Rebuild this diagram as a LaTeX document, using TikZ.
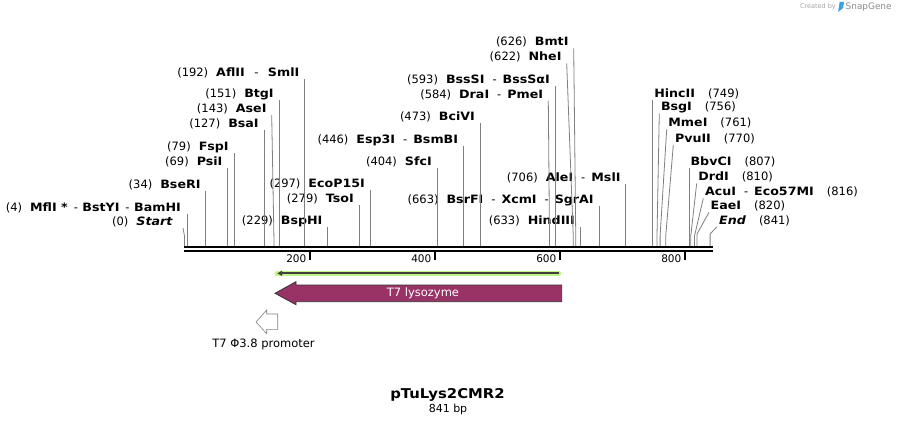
\documentclass[tikz,border=0pt]{standalone}
\usepackage{fontspec}
\setmainfont{DejaVu Sans}[BoldFeatures={FakeStretch=1.1}, BoldItalicFeatures={FakeStretch=1.1}]
\usetikzlibrary{arrows.meta}
\definecolor{lyso}{RGB}{153,51,102}
\definecolor{halo}{RGB}{190,245,130}
\definecolor{cutgray}{RGB}{128,128,128}
\definecolor{snapblue}{RGB}{60,160,230}
\newcommand{\sitefont}{\fontsize{11.5}{13}\selectfont}
\newcommand{\pn}[1]{(#1)\hspace{8pt}}
\newcommand{\pr}[1]{\hspace{13pt}(#1)}
\newcommand{\nm}[1]{\textbf{#1}}
\newcommand{\sep}{\hspace{8pt}-\hspace{6pt}}
\newcommand{\tsep}{\hspace{6pt}-\hspace{4.5pt}}
\newcommand{\wsep}{\hspace{9.5pt}-\hspace{9.5pt}}
\tikzset{
  site/.style={font=\sitefont, inner xsep=5pt, inner ysep=0.3pt, text height=8.5pt, text depth=2pt, anchor=south east},
  siter/.style={site, inner xsep=1.5pt, anchor=south west},
  cut/.style={draw=cutgray, line width=0.8pt},
  tickmark/.style={line width=2pt},
  ticklab/.style={font=\fontsize{10.5}{12}\selectfont, inner sep=0pt, anchor=east},
}

\begin{document}
\begin{tikzpicture}[x=1pt,y=-1pt]
        \useasboundingbox (0,0) rectangle (897,425);
        \fill [white] (0,0) rectangle (897,425);
        \node [site, inner xsep=10pt] (s0) at (183,228) {\pn{0}\textbf{\textit{Start}}};
        \node [site, inner xsep=6pt] (s4) at (187,213.5) {\pn{4}\nm{MflI *}\tsep\nm{BstYI}\tsep\nm{BamHI}};
        \node [site] (s34) at (205.75,190.7) {\pn{34}\nm{BseRI}};
        \node [site] (s69) at (227.6,168) {\pn{69}\nm{PsiI}};
        \node [site] (s79) at (233.9,153) {\pn{79}\nm{FspI}};
        \node [site] (s127) at (263.9,130) {\pn{127}\nm{BsaI}};
        \node [site] (s143) at (271.7,115) {\pn{143}\nm{AseI}};
        \node [site] (s151) at (278.9,100) {\pn{151}\nm{BtgI}};
        \node [site] (s192) at (304.5,79.3) {\pn{192}\nm{AflII}\wsep\nm{SmlI}};
        \node [site] (s229) at (327.6,226.7) {\pn{229}\nm{BspHI}};
        \node [site] (s279) at (358.9,205) {\pn{279}\nm{TsoI}};
        \node [site] (s297) at (370.1,190) {\pn{297}\nm{EcoP15I}};
        \node [site] (s404) at (437,168.3) {\pn{404}\nm{SfcI}};
        \node [site] (s446) at (463.25,146) {\pn{446}\nm{Esp3I}\sep\nm{BsmBI}};
        \node [site] (s473) at (480.1,123.3) {\pn{473}\nm{BciVI}};
        \node [site] (s584) at (548.3,100.7) {\pn{584}\nm{DraI}\sep\nm{PmeI}};
        \node [site] (s593) at (555.1,86) {\pn{593}\nm{BssSI}\sep\nm{BssSαI}};
        \node [site] (s622) at (566.7,63.3) {\pn{622}\nm{NheI}};
        \node [site] (s626) at (573.7,48.3) {\pn{626}\nm{BmtI}};
        \node [site] (s633) at (580.1,227.3) {\pn{633}\nm{HindIII}};
        \node [site] (s663) at (598.9,206) {\pn{663}\nm{BsrFI}\sep\nm{XcmI}\sep\nm{SgrAI}};
        \node [site] (s706) at (625.75,184) {\pn{706}\nm{AleI}\sep\nm{MslI}};
        \node [siter] (s749) at (652.6,100) {\nm{HincII}\pr{749}};
        \node [siter] (s756) at (659.3,113.3) {\nm{BsgI}\pr{756}};
        \node [siter] (s761) at (666.7,129.3) {\nm{MmeI}\pr{761}};
        \node [siter] (s770) at (673.3,145) {\nm{PvuII}\pr{770}};
        \node [siter] (s807) at (688.9,168.3) {\nm{BbvCI}\pr{807}};
        \node [siter] (s810) at (696.7,183.3) {\nm{DrdI}\pr{810}};
        \node [siter] (s816) at (703.3,198.3) {\nm{AcuI}\sep\nm{Eco57MI}\pr{816}};
        \node [siter] (s820) at (709,212.3) {\nm{EaeI}\pr{820}};
        \node [siter, inner xsep=2.3pt] (s841) at (716.7,227) {\textbf{\textit{End}}\pr{841}};
        \coordinate (b0) at (184.5,246);
        \coordinate (b4) at (187,246);
        \coordinate (b34) at (205.75,246);
        \coordinate (b69) at (227.6,246);
        \coordinate (b79) at (233.9,246);
        \coordinate (b127) at (263.9,246);
        \coordinate (b143) at (273.9,246);
        \coordinate (b151) at (278.9,246);
        \coordinate (b192) at (304.5,246);
        \coordinate (b229) at (327.6,246);
        \coordinate (b279) at (358.9,246);
        \coordinate (b297) at (370.1,246);
        \coordinate (b404) at (437,246);
        \coordinate (b446) at (463.25,246);
        \coordinate (b473) at (480.1,246);
        \coordinate (b584) at (549.5,246);
        \coordinate (b593) at (555.1,246);
        \coordinate (b622) at (573.25,246);
        \coordinate (b626) at (575.75,246);
        \coordinate (b633) at (580.1,246);
        \coordinate (b663) at (598.9,246);
        \coordinate (b706) at (625.75,246);
        \coordinate (b749) at (652.6,246);
        \coordinate (b756) at (657,246);
        \coordinate (b761) at (660.1,246);
        \coordinate (b770) at (665.75,246);
        \coordinate (b807) at (688.9,246);
        \coordinate (b810) at (690.75,246);
        \coordinate (b816) at (694.5,246);
        \coordinate (b820) at (697,246);
        \coordinate (b841) at (710.1,246);
        \draw [cut] (s0.south east) -- ([yshift=10pt]b0) -- (b0);
        \draw [cut] (s4.south east) -- (b4);
        \draw [cut] (s34.south east) -- (b34);
        \draw [cut] (s69.south east) -- (b69);
        \draw [cut] (s79.south east) -- (b79);
        \draw [cut] (s127.south east) -- (b127);
        \draw [cut] (s143.south east) -- ([yshift=10pt]b143) -- (b143);
        \draw [cut] (s151.south east) -- (b151);
        \draw [cut] (s192.south east) -- (b192);
        \draw [cut] (s229.south east) -- (b229);
        \draw [cut] (s279.south east) -- (b279);
        \draw [cut] (s297.south east) -- (b297);
        \draw [cut] (s404.south east) -- (b404);
        \draw [cut] (s446.south east) -- (b446);
        \draw [cut] (s473.south east) -- (b473);
        \draw [cut] (s584.south east) -- ([yshift=10pt]b584) -- (b584);
        \draw [cut] (s593.south east) -- (b593);
        \draw [cut] (s622.south east) -- ([yshift=10pt]b622) -- (b622);
        \draw [cut] (s626.south east) -- ([yshift=10pt]b626) -- (b626);
        \draw [cut] (s633.south east) -- (b633);
        \draw [cut] (s663.south east) -- (b663);
        \draw [cut] (s706.south east) -- (b706);
        \draw [cut] (s749.south west) -- (b749);
        \draw [cut] (s756.south west) -- ([yshift=10pt]b756) -- (b756);
        \draw [cut] (s761.south west) -- ([yshift=10pt]b761) -- (b761);
        \draw [cut] (s770.south west) -- ([yshift=10pt]b770) -- (b770);
        \draw [cut] (s807.south west) -- (b807);
        \draw [cut] (s810.south west) -- ([yshift=10pt]b810) -- (b810);
        \draw [cut] (s816.south west) -- ([yshift=10pt]b816) -- (b816);
        \draw [cut] (s820.south west) -- ([yshift=12pt]b820) -- (b820);
        \draw [cut] (s841.south west) -- ([yshift=12pt]b841) -- (b841);
        \coordinate (bb0) at (184,247.2);
        \coordinate (bb1) at (713.3,247.2);
        \draw [line width=2.3pt] (bb0) -- (bb1);
        \draw [line width=2.3pt] ([yshift=-4pt]bb0) -- ([yshift=-4pt]bb1);
        \coordinate (t200) at (309.5,252);
        \coordinate (t400) at (434.5,252);
        \coordinate (t600) at (559.5,252);
        \coordinate (t800) at (684.5,252);
        \draw [tickmark] (t200) -- ([yshift=-8pt]t200);
        \draw [tickmark] (t400) -- ([yshift=-8pt]t400);
        \draw [tickmark] (t600) -- ([yshift=-8pt]t600);
        \draw [tickmark] (t800) -- ([yshift=-8pt]t800);
        \node [ticklab] (l200) at (306.5,258.5) {200};
        \node [ticklab] (l400) at (431.5,258.5) {400};
        \node [ticklab] (l600) at (556.5,258.5) {600};
        \node [ticklab] (l800) at (681.5,258.5) {800};
        \coordinate (g0) at (558.7,273.3);
        \coordinate (g1) at (277,273.3);
        \draw [halo, line width=5pt, line cap=round] (g0) -- (g1);
        \draw [line width=2pt, black!75, -{Latex[length=5pt,width=6pt]}] (g0) -- (g1);
        \draw [fill=lyso, draw=black!80, line width=0.8pt] (561.7,285) -- (296,285) -- (296,281.7) -- (275,293.3) -- (296,304.7) -- (296,301.7) -- (561.7,301.7) -- cycle;
        \node [text=white, font=\sitefont] (lyso) at (423,293.3) {T7 lysozyme};
        \draw [fill=white, draw=gray, line width=0.6pt] (277.7,314) -- (266.7,314) -- (266.7,310) -- (256,322) -- (266.7,333.7) -- (266.7,329.3) -- (277.7,329.3) -- cycle;
        \node [font=\sitefont] (prom) at (263.5,344) {T7 Φ3.8 promoter};
        \node [font=\fontsize{13.5}{15}\selectfont\bfseries] (title) at (447.5,395) {pTuLys2CMR2};
        \node [font=\fontsize{11}{13}\selectfont] (bp) at (448,409.5) {841 bp};
        \node [font=\fontsize{6.5}{8}\selectfont, text=black!35, anchor=east, inner sep=0pt] (cr) at (836,7) {Created by};
        \fill [snapblue] (838.2,12) -- (839.6,2) -- (844,2) -- (843,8) -- cycle;
        \node [font=\fontsize{8.9}{10}\selectfont, text=black!45, anchor=west, inner sep=0pt] (sg) at (845.5,7) {SnapGene};
\end{tikzpicture}
\end{document}
